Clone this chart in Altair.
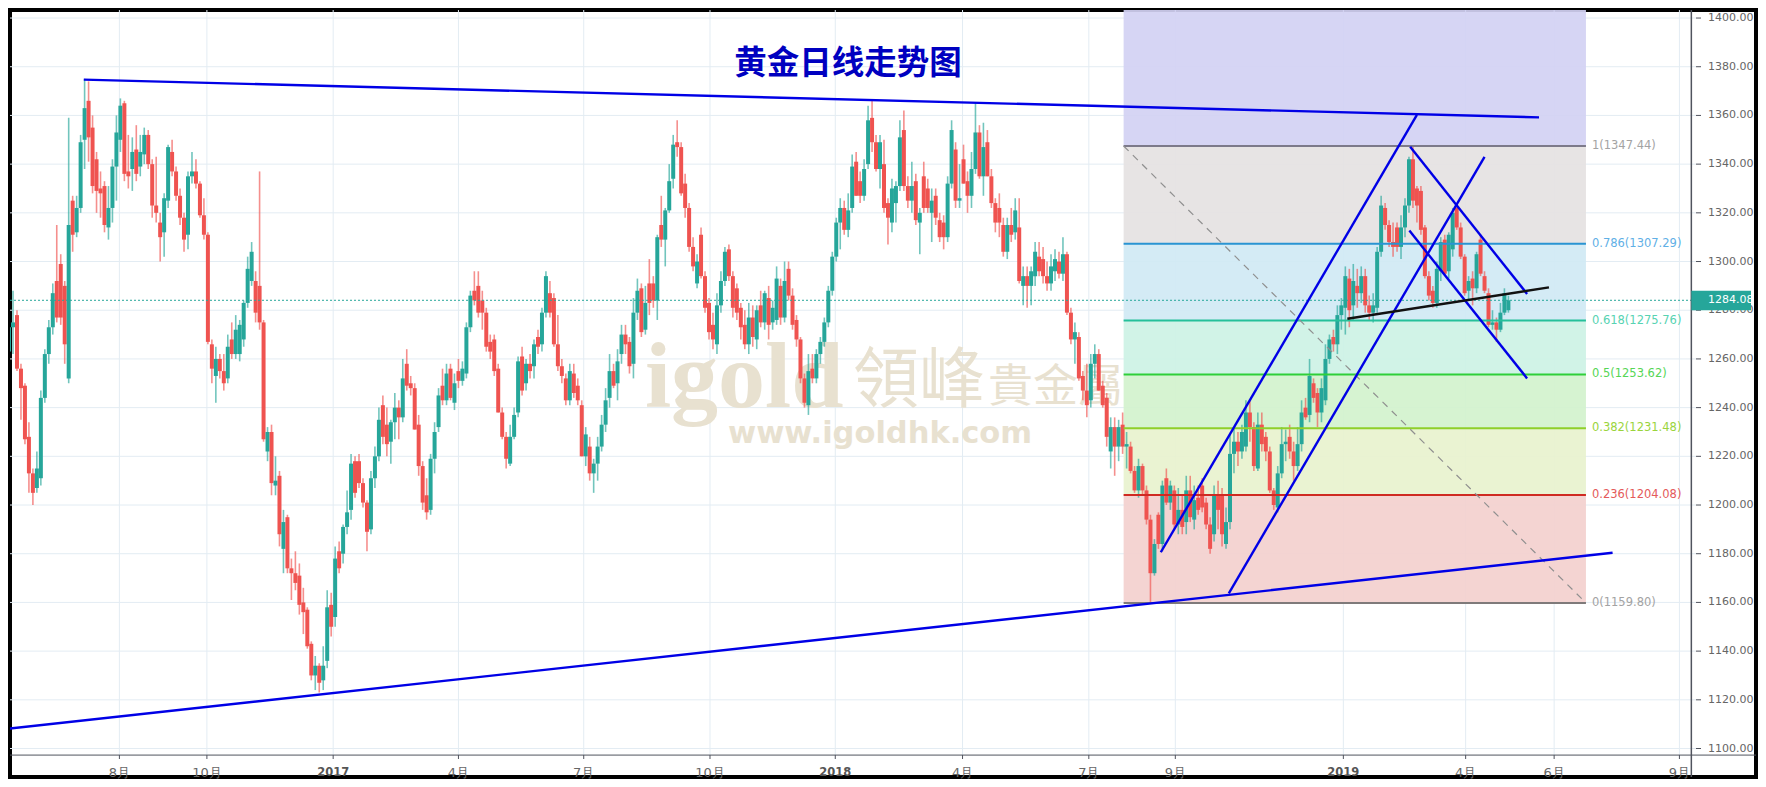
import altair as alt
import pandas as pd

# (open, high, low, close), left to right
BARS_A = [(1263,1278,1258,1273),(1273,1288,1262,1275),(1278,1280,1255,1256),(1256,1258,1235,1248),(1249,1250,1225,1227),
(1228,1234,1205,1213),(1213,1215,1200,1205),(1207,1222,1205,1215),(1211,1247,1208,1244),(1244,1264,1242,1262),
(1262,1276,1258,1273),(1273,1291,1270,1287),(1292,1315,1275,1277),(1299,1303,1274,1277),(1290,1292,1258,1266),
(1252,1359,1250,1315),(1325,1327,1304,1311),(1312,1327,1310,1322),(1322,1352,1320,1349),(1350,1375,1338,1363),
(1366,1374,1341,1351),(1355,1360,1328,1331),(1342,1345,1320,1329),(1330,1337,1318,1328),(1331,1333,1312,1315),
(1314,1331,1309,1322),(1322,1342,1316,1339),(1339,1360,1325,1353),(1350,1367,1345,1364),(1365,1366,1333,1336),
(1337,1352,1330,1335),(1338,1351,1329,1345),(1346,1356,1333,1336),(1339,1352,1335,1345),(1344,1355,1340,1352),
(1352,1354,1338,1340),(1340,1342,1318,1323),(1323,1343,1316,1320),(1316,1320,1300,1310),(1312,1328,1302,1326),
(1325,1348,1322,1347),(1345,1350,1335,1337),(1337,1339,1325,1327),(1327,1330,1315,1318),(1318,1320,1304,1309),
(1311,1337,1305,1335),(1335,1345,1332,1337),(1337,1342,1330,1332),(1332,1333,1318,1319),(1319,1326,1309,1311)]
BARS_B = [(1311,1312,1266,1267),(1266,1268,1250,1256),(1253,1265,1242,1260),(1260,1262,1252,1255),(1255,1262,1247,1250),
(1252,1270,1250,1265),(1268,1275,1260,1262),(1262,1278,1260,1272),(1262,1276,1259,1274),(1268,1284,1265,1283),
(1283,1302,1281,1297),(1292,1308,1290,1304),(1292,1296,1275,1279),(1290,1337,1272,1275),(1275,1276,1226,1227),
(1222,1232,1218,1230),(1230,1233,1204,1209),(1208,1220,1204,1210),(1212,1214,1183,1188),(1182,1198,1172,1193),
(1195,1196,1172,1174),(1174,1178,1161,1172),(1172,1181,1165,1168),(1171,1176,1155,1159),(1160,1166,1147,1156),
(1157,1158,1141,1142),(1143,1144,1128,1130),(1130,1138,1124,1134),(1134,1135,1123,1127),(1128,1142,1124,1134),
(1136,1165,1133,1158),(1159,1164,1146,1150)]
BARS_C = [(1154,1183,1150,1178),(1181,1185,1172,1174),(1180,1192,1176,1191),(1191,1206,1188,1197),(1198,1221,1194,1217),
(1218,1220,1203,1205),(1218,1221,1207,1209),(1209,1211,1199,1201),(1201,1202,1181,1189),(1190,1214,1188,1211),
(1211,1224,1207,1220),(1220,1240,1218,1235),(1241,1245,1225,1228),(1233,1240,1220,1225),(1226,1235,1217,1234),
(1234,1246,1227,1240),(1240,1243,1227,1236),(1236,1260,1234,1252),(1258,1264,1247,1249),(1250,1253,1245,1248),
(1248,1250,1231,1231),(1233,1237,1212,1216),(1216,1218,1198,1201),(1204,1211,1194,1197),(1198,1221,1196,1219),
(1219,1234,1213,1230),(1232,1248,1230,1245),(1249,1256,1241,1243),(1243,1258,1241,1254),(1256,1258,1243,1244),
(1242,1254,1239,1250)]
BARS_D = [(1255,1260,1248,1251),(1251,1259,1249,1256),(1254,1275,1252,1273),(1273,1288,1271,1286),(1288,1296,1282,1284),
(1290,1296,1277,1279),(1284,1288,1272,1279),(1279,1281,1263,1265),(1267,1270,1260,1263),(1268,1270,1253,1255),
(1256,1258,1238,1238),(1238,1240,1227,1228),(1228,1230,1215,1219),(1217,1233,1216,1228),(1228,1240,1227,1237),
(1238,1261,1236,1259),(1261,1265,1245,1247),(1250,1260,1247,1258),(1258,1262,1252,1255),(1257,1268,1252,1266),
(1269,1272,1262,1265),(1266,1281,1263,1279),(1279,1296,1277,1294),(1287,1292,1277,1279),(1285,1287,1265,1266),
(1266,1278,1255,1257),(1257,1260,1250,1253),(1252,1254,1241,1243),(1243,1258,1241,1255),(1254,1258,1244,1246),
(1249,1252,1241,1243),(1241,1243,1220,1220),(1220,1232,1216,1229),(1224,1228,1210,1213),(1213,1219,1205,1217),
(1217,1228,1210,1224)]
BARS_E = [(1224,1237,1222,1233),(1233,1248,1230,1243),(1244,1262,1240,1255),(1255,1258,1248,1249),(1250,1264,1243,1259),
(1262,1274,1258,1270),(1270,1274,1262,1266),(1267,1269,1254,1257),(1258,1285,1252,1279),(1279,1293,1276,1288),
(1289,1291,1269,1271),(1272,1290,1270,1283),(1291,1301,1278,1283),(1291,1294,1281,1284),(1284,1311,1276,1310),
(1315,1327,1306,1309),(1309,1322,1298,1321),(1321,1340,1320,1333),(1334,1352,1330,1348),(1349,1358,1343,1347),
(1347,1349,1327,1328),(1332,1336,1318,1322),(1322,1324,1304,1306)]
BARS_F = [(1306,1310,1296,1298),(1291,1303,1289,1300),(1311,1314,1293,1294),(1294,1296,1279,1281),(1283,1285,1268,1271),
(1274,1279,1264,1268),(1266,1287,1262,1282),(1282,1296,1279,1292),(1292,1306,1290,1304),(1305,1307,1292,1294),
(1294,1296,1277,1281),(1289,1291,1276,1279),(1281,1283,1268,1273),(1274,1280,1264,1266),(1266,1283,1262,1277),
(1277,1282,1265,1269),(1268,1282,1264,1280),(1282,1288,1273,1275),(1275,1288,1272,1287),(1285,1290,1268,1274),
(1275,1284,1272,1281),(1276,1298,1274,1293),(1290,1293,1274,1277),(1277,1300,1275,1292),(1297,1300,1284,1286),
(1286,1289,1272,1274),(1276,1278,1265,1268),(1268,1269,1250,1252),(1252,1254,1240,1242),(1241,1262,1237,1255),
(1256,1262,1250,1252),(1252,1264,1250,1262),(1262,1269,1258,1267),(1267,1277,1265,1275),(1275,1290,1273,1288),
(1288,1304,1286,1302)]
BARS_G = [(1302,1318,1300,1316),(1316,1326,1305,1322),(1322,1325,1311,1313),(1313,1328,1310,1321),(1322,1344,1320,1339),
(1341,1345,1327,1327),(1333,1337,1324,1327),(1327,1342,1325,1338),(1340,1364,1338,1358),(1359,1366,1345,1349),
(1349,1352,1337,1338),(1338,1352,1330,1349),(1340,1350,1320,1322),(1324,1326,1307,1318),(1316,1334,1312,1330),
(1324,1333,1316,1331),(1331,1358,1329,1351),(1354,1362,1329,1331),(1331,1335,1322,1325),(1325,1341,1320,1331),
(1333,1336,1315,1317),(1316,1322,1303,1320),(1335,1341,1320,1322),(1330,1334,1320,1322),(1320,1330,1308,1325),
(1327,1330,1315,1318),(1317,1320,1308,1310),(1316,1319,1305,1310),(1310,1335,1308,1332),(1332,1358,1330,1354),
(1346,1349,1322,1325),(1325,1340,1322,1326),(1342,1348,1332,1332),(1333,1337,1320,1327),(1327,1345,1322,1338),
(1338,1365,1336,1353),(1353,1356,1334,1335),(1335,1357,1327,1347),(1349,1354,1335,1335),(1335,1338,1322,1324),
(1324,1326,1312,1316),(1322,1328,1310,1316),(1315,1318,1302,1304),(1304,1318,1301,1315),(1315,1322,1308,1311),
(1312,1326,1309,1321),(1314,1326,1291,1292),(1290,1298,1282,1294),(1294,1298,1281,1290)]
BARS_H = [(1290,1298,1282,1296),(1294,1308,1290,1304),(1302,1308,1294,1296),(1301,1306,1291,1294),(1294,1300,1288,1291),
(1291,1303,1288,1298),(1296,1305,1292,1301),(1300,1304,1293,1295),(1295,1310,1292,1303),(1303,1304,1278,1279),
(1279,1281,1266,1268),(1268,1275,1258,1271),(1269,1271,1251,1252),(1253,1255,1243,1247),(1247,1258,1236,1241),
(1243,1262,1240,1258),(1258,1266,1252,1262),(1262,1264,1247,1247),(1249,1251,1240,1241),(1244,1246,1224,1228),
(1222,1236,1215,1232),(1232,1236,1212,1224),(1224,1235,1218,1232),(1233,1238,1221,1224),(1224,1230,1215,1225),
(1224,1226,1213,1214),(1214,1216,1205,1206),(1206,1219,1203,1216),(1216,1217,1204,1206)]
BARS_I = [(1206,1208,1192,1194),(1194,1196,1160,1172),(1172,1186,1171,1184),(1196,1197,1182,1184),(1184,1210,1181,1208),
(1211,1215,1200,1201),(1201,1210,1198,1208),(1206,1208,1190,1192),(1192,1207,1188,1198),(1198,1204,1188,1191),
(1193,1212,1188,1206),(1206,1212,1193,1195),(1194,1208,1190,1202),(1203,1208,1196,1198),(1208,1211,1197,1199),
(1201,1203,1190,1192),(1192,1195,1180,1182),(1188,1208,1185,1204),(1204,1210,1190,1198),(1204,1207,1183,1188),
(1184,1199,1182,1193),(1193,1229,1190,1221),(1221,1232,1213,1226),(1226,1230,1216,1222),(1222,1233,1219,1230),
(1224,1243,1222,1238),(1238,1243,1226,1232),(1232,1234,1214,1216),(1215,1238,1214,1233),(1233,1238,1222,1225),
(1228,1230,1218,1222),(1222,1224,1205,1206),(1206,1207,1198,1200),(1199,1216,1197,1213),(1213,1232,1211,1225),
(1225,1231,1218,1226),(1228,1233,1219,1222),(1222,1226,1210,1216),(1216,1232,1214,1225),(1225,1243,1222,1238)]
BARS_J = [(1240,1244,1235,1236),(1237,1260,1234,1253),(1250,1252,1242,1244),(1246,1248,1232,1238),(1238,1252,1234,1248),
(1243,1266,1241,1260),(1260,1270,1258,1268),(1269,1272,1263,1266),(1266,1282,1262,1278),(1278,1285,1272,1282),
(1281,1298,1270,1294),(1293,1297,1273,1280),(1282,1299,1276,1292),(1290,1297,1281,1287),(1287,1298,1283,1294),
(1294,1297,1279,1282),(1282,1286,1276,1279),(1279,1287,1275,1282),(1281,1306,1279,1304),(1304,1327,1302,1323),
(1322,1324,1313,1315),(1315,1317,1306,1308),(1308,1316,1302,1306),(1314,1316,1304,1306),(1306,1319,1301,1314),
(1314,1326,1310,1323),(1323,1343,1320,1342),(1342,1347,1322,1325),(1330,1331,1316,1323),(1329,1331,1311,1313),
(1314,1315,1293,1294),(1294,1296,1284,1286),(1288,1290,1281,1283),(1283,1300,1281,1297),(1296,1310,1292,1308),
(1309,1311,1294,1295),(1296,1312,1293,1311),(1305,1322,1302,1320),(1322,1323,1313,1314),(1314,1316,1301,1302),
(1302,1303,1286,1287),(1288,1294,1284,1292),(1293,1296,1282,1289),(1289,1304,1287,1303),(1309,1311,1294,1295),
(1294,1296,1287,1288),(1287,1289,1273,1274),(1274,1280,1272,1275),(1275,1277,1267,1272),(1272,1283,1271,1279),
(1279,1289,1278,1287),(1280,1286,1279,1284.08)]

TICK_BARS = [27.75,49.75,81.5,113,144.5,176.25,207.75,239.75,271.5,293.25,335.5,366.25,388.5,420]
TICK_TEXT = ["8月","10月","2017","4月","7月","10月","2018","4月","7月","9月","2019","4月","6月","9月"]
PRICE_TICKS = [1100,1120,1140,1160,1180,1200,1220,1240,1260,1280,1300,1320,1340,1360,1380,1400]

FIB_START = 280.25
FIB_END = 396.5
FIB_LABEL_AT = 398
FIB_RATIO = ["1","0.786","0.618","0.5","0.382","0.236","0"]
FIB_PRICE = [1347.44,1307.29,1275.76,1253.62,1231.48,1204.08,1159.80]
FIB_LINE = ["#7d7a8a","#2a94d2","#25c09a","#2fcf3a","#8fcf2a","#cf2a22","#7f7a7a"]
FIB_TEXT = ["#a3a3a3","#5fb0e6","#57d3b2","#55d655","#9ad43c","#e45a5a","#a3a3a3"]
BAND_TOP = [1403.3,1347.44,1307.29,1275.76,1253.62,1231.48,1204.08]
BAND_BOT = [1347.44,1307.29,1275.76,1253.62,1231.48,1204.08,1159.80]
BAND_FILL = ["#d2d1f3","#e5e2e2","#d0e9f4","#cdf2e5","#d3f2cd","#e8f2ce","#f3d0ce"]

BLUE_X1 = [18.8,-1,289.6,306.7,352.3,352.1]
BLUE_Y1 = [1374.7,1108,1180.6,1163.7,1347.1,1312.7]
BLUE_X2 = [384.7,403.2,354,371,381.7,381.7]
BLUE_Y2 = [1359.2,1180.4,1360.2,1343,1286.7,1252]
BLACK_SEG = dict(x=[336.5], y=[1276.5], x2=[387.2], y2=[1289.4])
LAST_PRICE = 1284.08
AXIS_BAR = 423
AXIS_PRICE = 1097.3

all_bars = BARS_A + BARS_B + BARS_C + BARS_D + BARS_E + BARS_F + BARS_G + BARS_H + BARS_I + BARS_J
candles = pd.DataFrame(all_bars, columns=["o", "h", "l", "c"])
candles["bar"] = range(len(candles))
candles["dir"] = ["up" if c >= o else "down" for o, c in zip(candles.o, candles.c)]

W, H = 1746, 767
xs = alt.Scale(domain=[1.5, 438], nice=False, zero=False)
ys = alt.Scale(domain=[1088.3, 1403.3], nice=False, zero=False)
FONT = "DejaVu Sans"
AXIS_COL = "#50535e"
LABEL_COL = "#666666"
AX_X = 1686   # plot-pixel position of the price axis
AX_Y = 745    # plot-pixel position of the time axis

def X(f="bar"):
    return alt.X(f"{f}:Q", scale=xs, axis=None)
def Y(f):
    return alt.Y(f"{f}:Q", scale=ys, axis=None)

GRID = "#e3ecf3"
price_df = pd.DataFrame({"p": PRICE_TICKS, "t": [f"{p:.2f}" for p in PRICE_TICKS]})
time_df = pd.DataFrame({"b": TICK_BARS, "t": TICK_TEXT})
month_df = time_df[~time_df.t.str.startswith("20")]
year_df = time_df[time_df.t.str.startswith("20")]

h_grid = alt.Chart(price_df).mark_rule(color=GRID, strokeWidth=1).encode(y=Y("p"), x=alt.value(0), x2=alt.value(AX_X))
v_grid = alt.Chart(time_df).mark_rule(color=GRID, strokeWidth=1).encode(x=X("b"), y=alt.value(0), y2=alt.value(AX_Y))

price_ticks = alt.Chart(price_df).mark_rule(color=AXIS_COL, strokeWidth=1).encode(
    y=Y("p"), x=alt.value(AX_X), x2=alt.value(AX_X + 5))
price_labels = alt.Chart(price_df).mark_text(align="left", baseline="middle", font=FONT, fontSize=11, color=LABEL_COL).encode(
    y=Y("p"), x=alt.value(AX_X + 12), text="t:N")
time_ticks = alt.Chart(time_df).mark_rule(color=AXIS_COL, strokeWidth=1).encode(
    x=X("b"), y=alt.value(AX_Y), y2=alt.value(AX_Y + 4))
month_labels = alt.Chart(month_df).mark_text(align="center", baseline="middle", font=FONT, fontSize=13, color=LABEL_COL).encode(
    x=X("b"), y=alt.value(AX_Y + 18), text="t:N")
year_labels = alt.Chart(year_df).mark_text(align="center", baseline="middle", font=FONT, fontSize=11.5, fontWeight="bold", color="#555555").encode(
    x=X("b"), y=alt.value(AX_Y + 18), text="t:N")
price_domain = alt.Chart(pd.DataFrame({"b": [AXIS_BAR]})).mark_rule(color=AXIS_COL, strokeWidth=1.5).encode(
    x=X("b"), y=alt.value(0), y2=alt.value(H))
time_domain = alt.Chart(pd.DataFrame({"p": [AXIS_PRICE]})).mark_rule(color=AXIS_COL, strokeWidth=1).encode(
    y=Y("p"), x=alt.value(0), x2=alt.value(W))

bands_df = pd.DataFrame({"top": BAND_TOP, "bot": BAND_BOT, "fill": BAND_FILL, "a": FIB_START, "b": FIB_END})
bands = alt.Chart(bands_df).mark_rect(opacity=0.92).encode(
    x=X("a"), x2="b:Q", y=Y("top"), y2="bot:Q", color=alt.Color("fill:N", scale=None))

MARK = "#e8e1d0"
def wm(text, x, y, size, font, weight="normal", color=MARK):
    return alt.Chart(pd.DataFrame({"t": [text]})).mark_text(
        text=text, align="left", baseline="alphabetic", fontSize=size, font=font, fontWeight=weight, color=color
    ).encode(x=alt.value(x), y=alt.value(y))

watermark = [
    wm("igold", 635, 397, 94, "Liberation Serif", "bold"),
    wm("領峰", 843, 392, 66, "Noto Sans CJK TC"),
    wm("貴金屬", 978, 392, 45, "Noto Sans CJK TC"),
    wm("www.igoldhk.com", 718, 433, 30.5, "DejaVu Sans", "bold"),
]

color_dir = alt.Color("dir:N", scale=alt.Scale(domain=["up", "down"], range=["#26a69a", "#ef5350"]), legend=None)
wicks = alt.Chart(candles).mark_rule(strokeWidth=1.6, opacity=0.65, clip=True).encode(
    x=X(), y=Y("l"), y2="h:Q", color=color_dir)
bodies = alt.Chart(candles).mark_bar(size=4, clip=True).encode(
    x=X(), y=Y("o"), y2="c:Q", color=color_dir)

last_line = alt.Chart(pd.DataFrame({"p": [LAST_PRICE]})).mark_rule(
    color="#26a69a", strokeWidth=1, strokeDash=[2, 2]).encode(y=Y("p"), x=alt.value(0), x2=alt.value(AX_X))

fib_df = pd.DataFrame({"p": FIB_PRICE, "col": FIB_LINE, "txtcol": FIB_TEXT, "a": FIB_START, "b": FIB_END,
                       "lx": FIB_LABEL_AT,
                       "label": [f"{r}({p:.2f})" for r, p in zip(FIB_RATIO, FIB_PRICE)]})
fib_lines = alt.Chart(fib_df).mark_rule(strokeWidth=2).encode(
    x=X("a"), x2="b:Q", y=Y("p"), color=alt.Color("col:N", scale=None))
fib_text = alt.Chart(fib_df).mark_text(align="left", baseline="middle", font=FONT, fontSize=11.5).encode(
    x=X("lx"), y=Y("p"), text="label:N", color=alt.Color("txtcol:N", scale=None))
diag = alt.Chart(pd.DataFrame({"x": [FIB_START], "x2": [FIB_END], "y": [FIB_PRICE[0]], "y2": [FIB_PRICE[-1]]})).mark_rule(
    color="#8f8f8f", strokeWidth=1.2, strokeDash=[7, 6]).encode(x=X("x"), x2="x2:Q", y=Y("y"), y2="y2:Q")

blue = alt.Chart(pd.DataFrame({"x": BLUE_X1, "y": BLUE_Y1, "x2": BLUE_X2, "y2": BLUE_Y2})).mark_rule(
    color="#0000e6", strokeWidth=2.4, clip=True).encode(x=X("x"), x2="x2:Q", y=Y("y"), y2="y2:Q")
black = alt.Chart(pd.DataFrame(BLACK_SEG)).mark_rule(color="#111111", strokeWidth=2.4).encode(
    x=X("x"), x2="x2:Q", y=Y("y"), y2="y2:Q")

price_box = alt.Chart(pd.DataFrame({"a": [423], "b": [438], "top": [1288], "bot": [1280]})).mark_rect(color="#26a69a").encode(
    x=X("a"), x2="b:Q", y=Y("top"), y2="bot:Q")
price_txt = alt.Chart(pd.DataFrame({"p": [LAST_PRICE], "t": [f"{LAST_PRICE:.2f}"]})).mark_text(
    align="left", baseline="middle", font=FONT, fontSize=11, color="white").encode(x=alt.value(AX_X + 12), y=Y("p"), text="t:N")

title = alt.Chart(pd.DataFrame({"t": ["黄金日线走势图"]})).mark_text(
    align="center", baseline="middle", fontSize=32.5, font="Noto Sans CJK SC", fontWeight="bold", color="#0000c0"
).encode(x=alt.value(838), y=alt.value(54), text="t:N")

chart = alt.layer(h_grid, v_grid, bands, *watermark, wicks, bodies, last_line, fib_lines, diag, fib_text,
                  blue, black, price_domain, time_domain, price_ticks, time_ticks, price_labels,
                  month_labels, year_labels, price_box, price_txt, title).properties(
    width=W, height=H, autosize=alt.AutoSizeParams(type="none"),
    padding={"left": 2, "top": 2, "right": 2, "bottom": 2}, background="white"
).configure_view(stroke="black", strokeWidth=4)

chart.save("out.html", embed_options={"renderer": "svg", "actions": False})
